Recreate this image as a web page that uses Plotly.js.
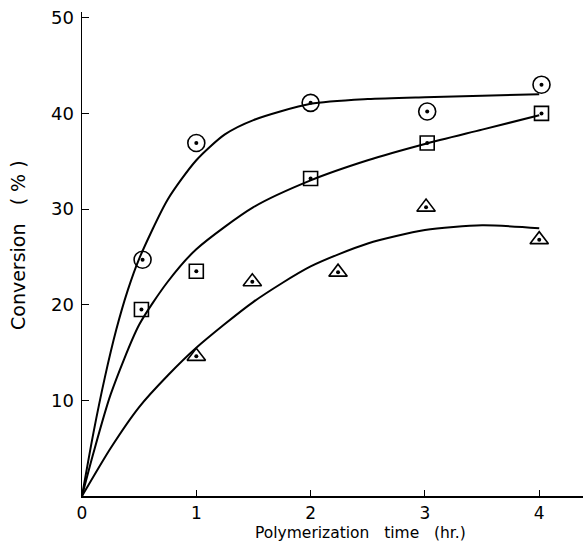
<!DOCTYPE html>
<html>
<head>
<meta charset="utf-8">
<script src="https://cdn.plot.ly/plotly-3.0.1.min.js"></script>
<style>html,body{margin:0;padding:0;background:#fff;}#chart{width:583px;height:551px;}</style>
</head>
<body>
<div id="chart"></div>
<script>
// Measured points (time in hr, conversion %)
const circleX = [0.53, 1.0, 2.0, 3.02, 4.02];
const circleY = [24.7, 36.9, 41.1, 40.2, 43.0];
const squareX = [0.52, 1.0, 2.0, 3.02, 4.02];
const squareY = [19.5, 23.5, 33.2, 36.9, 40.0];
const triX = [1.0, 1.49, 2.24, 3.01, 4.0];
const triY = [14.6, 22.4, 23.4, 30.2, 26.8];

// Fitted curves
const curveCircleX = [0, 0.1, 0.2, 0.3, 0.4, 0.5, 0.75, 1.0, 1.25, 1.5, 2.0, 2.5, 3.0, 3.5, 4.0];
const curveCircleY = [0, 6.6, 12.4, 17.4, 21.5, 24.8, 31.0, 35.1, 37.8, 39.3, 41.0, 41.5, 41.7, 41.85, 42.0];
const curveSquareX = [0, 0.1, 0.25, 0.5, 0.75, 1.0, 1.5, 2.0, 2.5, 3.0, 3.5, 4.0];
const curveSquareY = [0, 4.5, 10.6, 17.9, 22.4, 25.8, 30.2, 33.0, 35.1, 36.8, 38.3, 39.8];
const curveTriX = [0, 0.25, 0.5, 0.75, 1.0, 1.5, 2.0, 2.5, 3.0, 3.5, 4.0];
const curveTriY = [0, 5.0, 9.3, 12.6, 15.5, 20.3, 24.0, 26.4, 27.8, 28.3, 28.0];

const xTicks = [0, 1, 2, 3, 4];
const yTicks = [10, 20, 30, 40, 50];

const lineStyle = {color: '#000', width: 2, shape: 'spline', smoothing: 0.7};
const fontFam = 'DejaVu Sans, sans-serif';

function dots(xs, ys) {
  return {x: xs, y: ys, mode: 'markers', marker: {symbol: 'circle', size: 4, color: '#000'}, hoverinfo: 'skip'};
}

const traces = [
  {x: curveCircleX, y: curveCircleY, mode: 'lines', line: lineStyle, hoverinfo: 'skip'},
  {x: curveSquareX, y: curveSquareY, mode: 'lines', line: lineStyle, hoverinfo: 'skip'},
  {x: curveTriX, y: curveTriY, mode: 'lines', line: lineStyle, hoverinfo: 'skip'},
  {x: circleX, y: circleY, mode: 'markers',
   marker: {symbol: 'circle-open', size: 17, color: '#000', line: {color: '#000', width: 1.6}}},
  {x: squareX, y: squareY, mode: 'markers',
   marker: {symbol: 'square-open', size: 14, color: '#000', line: {color: '#000', width: 1.6}}},
  {x: triX, y: triY, mode: 'markers',
   marker: {symbol: 'triangle-up-open', size: 16, color: '#000', line: {color: '#000', width: 1.6}}},
  dots(circleX, circleY), dots(squareX, squareY), dots(triX, triY)
];

const layout = {
  width: 583, height: 551,
  margin: {l: 82, r: 0, t: 12, b: 55},
  showlegend: false,
  paper_bgcolor: '#fff', plot_bgcolor: '#fff',
  font: {family: fontFam, color: '#000'},
  xaxis: {
    range: [0, 4.383], tickvals: xTicks, ticktext: xTicks.map(String),
    showgrid: false, zeroline: false, showline: true, linecolor: '#000', linewidth: 1.5,
    ticks: 'inside', ticklen: 6, tickwidth: 1, tickcolor: '#000',
    tickfont: {size: 17, family: fontFam}, ticklabelstandoff: 1
  },
  yaxis: {
    range: [0, 50.6], tickvals: yTicks, ticktext: yTicks.map(String),
    showgrid: false, zeroline: false, showline: true, linecolor: '#000', linewidth: 1.5,
    ticks: 'inside', ticklen: 7, tickwidth: 1, tickcolor: '#000',
    tickfont: {size: 18, family: fontFam}, ticklabelstandoff: 3
  },
  annotations: [
    {text: 'Polymerization&nbsp;&nbsp; time&nbsp;&nbsp; (hr.)', xref: 'paper', yref: 'paper',
     x: (360 - 82) / 501, y: -(533 - 496) / 484, xanchor: 'center', yanchor: 'middle',
     showarrow: false, font: {size: 15.5, family: fontFam, color: '#000'}},
    {text: 'Conversion&nbsp;&nbsp; (&nbsp;%&nbsp;)', xref: 'paper', yref: 'paper',
     x: -(82 - 18) / 501, y: (496 - 245) / 484, xanchor: 'center', yanchor: 'middle',
     textangle: -90, showarrow: false, font: {size: 19, family: fontFam, color: '#000'}}
  ]
};

Plotly.newPlot('chart', traces, layout, {displayModeBar: false, staticPlot: true});
</script>
</body>
</html>
